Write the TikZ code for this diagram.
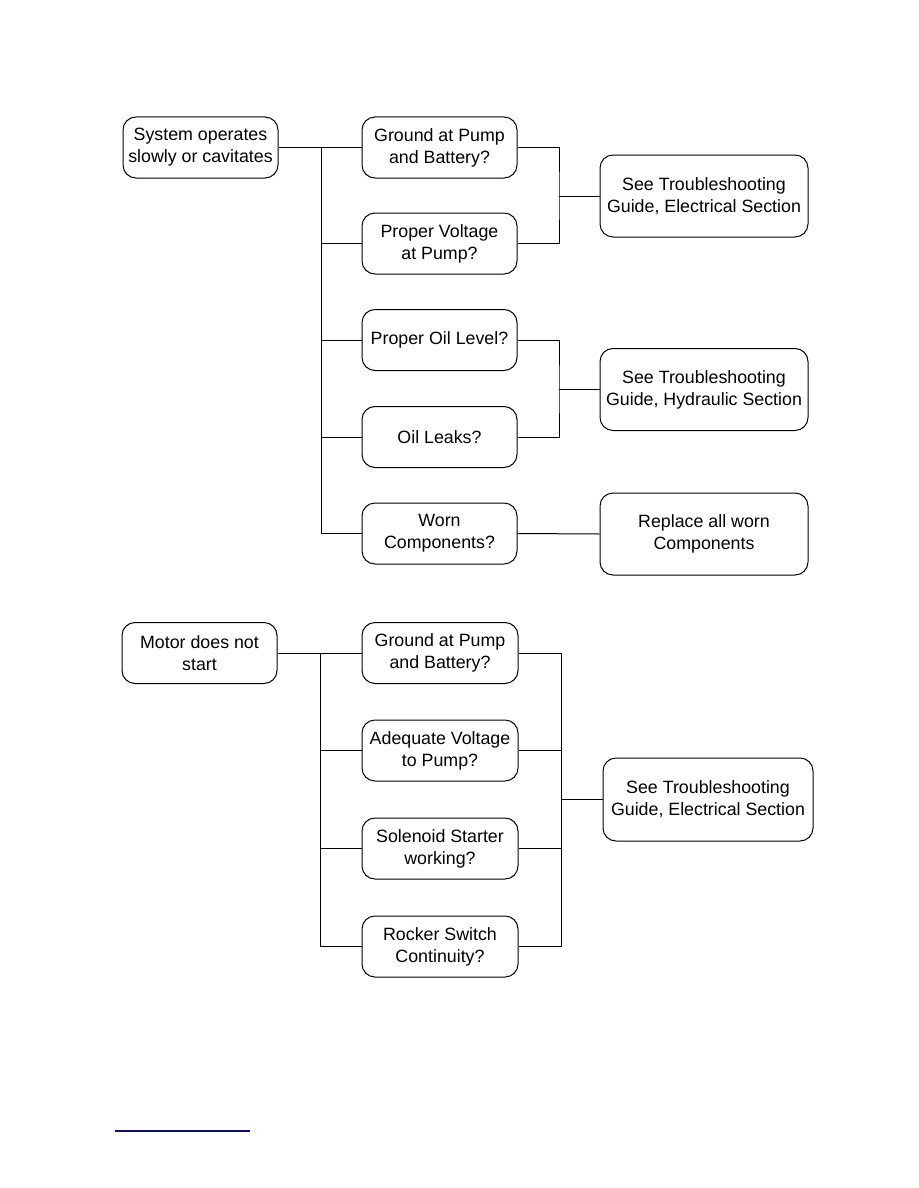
\documentclass[tikz,border=0pt]{standalone}
\usepackage{fontspec}
\setmainfont{Liberation Sans}
\begin{document}
\begin{tikzpicture}[x=1pt,y=-1pt,
  box/.style={draw,rounded corners=13pt,line width=1pt,minimum width=155pt,minimum height=61pt,align=center,inner sep=2pt,font=\fontsize{17.8}{22}\selectfont},
  bigbox/.style={box,minimum width=208pt,minimum height=82pt},
  conn/.style={line width=1pt}]
\useasboundingbox (0,0) rectangle (918,1188);
% top group
\node[box] (a0) at (200.5,147.5) {System operates\\slowly or cavitates};
\node[box] (a1) at (439.5,147.5) {Ground at Pump\\and Battery?};
\node[box] (a2) at (439.5,243.5) {Proper Voltage\\at Pump?};
\node[box] (a3) at (439.5,340) {Proper Oil Level?};
\node[box] (a4) at (439.5,437) {Oil Leaks?};
\node[box] (a5) at (439.5,533.5) {Worn\\Components?};
\node[bigbox] (r1) at (704,196) {See Troubleshooting\\Guide, Electrical Section};
\node[bigbox] (r2) at (704,389.5) {See Troubleshooting\\Guide, Hydraulic Section};
\node[bigbox] (r3) at (704,534) {Replace all worn\\Components};
\coordinate (t1) at (321,147.5);
\coordinate (t5) at (321,533.5);
\coordinate (j1) at (559,196);
\coordinate (j2) at (559,389.5);
\draw[conn] (a0.east) -- (a1.west);
\draw[conn] (t1) -- (t5);
\foreach \n in {a2,a3,a4,a5} \draw[conn] (t1 |- \n.west) -- (\n.west);
\draw[conn] (a1.east) -| (j1) |- (a2.east);
\draw[conn] (j1) -- (r1.west);
\draw[conn] (a3.east) -| (j2) |- (a4.east);
\draw[conn] (j2) -- (r2.west);
\draw[conn] (a5.east) -- (r3.west);
% bottom group
\node[box] (b0) at (199.5,653) {Motor does not\\start};
\node[box,minimum width=156pt] (b1) at (440,653) {Ground at Pump\\and Battery?};
\node[box,minimum width=156pt] (b2) at (440,750.5) {Adequate Voltage\\to Pump?};
\node[box,minimum width=156pt] (b3) at (440,848.5) {Solenoid Starter\\working?};
\node[box,minimum width=156pt] (b4) at (440,946.5) {Rocker Switch\\Continuity?};
\node[bigbox,minimum width=210pt,minimum height=83pt] (s1) at (708,799.5) {See Troubleshooting\\Guide, Electrical Section};
\coordinate (u1) at (320,653);
\coordinate (u4) at (320,946.5);
\coordinate (k1) at (561,653);
\coordinate (k4) at (561,946.5);
\draw[conn] (b0.east) -- (b1.west);
\draw[conn] (u1) -- (u4);
\foreach \n in {b2,b3,b4} \draw[conn] (u1 |- \n.west) -- (\n.west);
\draw[conn] (b1.east) -| (k1) -- (k4) -- (b4.east);
\draw[conn] (b2.east) -- (k1 |- b2.east);
\draw[conn] (b3.east) -- (k1 |- b3.east);
\draw[conn] (k1 |- s1.west) -- (s1.west);
% footnote rule
\coordinate (f1) at (115,1131);
\coordinate (f2) at (250,1131);
\draw[line width=1.3pt,color={rgb,255:red,15;green,15;blue,105}] (f1) -- (f2);
\end{tikzpicture}
\end{document}
